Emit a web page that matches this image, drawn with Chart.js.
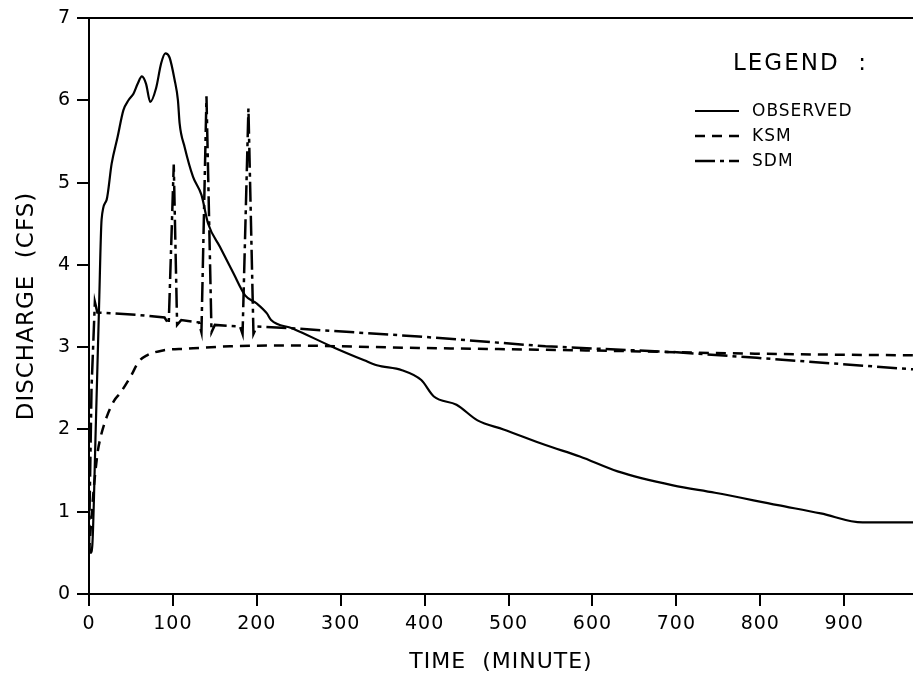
<!DOCTYPE html>
<html lang="en">
<head>
    <meta charset="UTF-8">
    <title>Discharge vs Time</title>
    <style>
        * { margin: 0; padding: 0; box-sizing: border-box; }
        body { background: #fff; }
        .wrap { position: relative; width: 913px; height: 680px; }
    </style>
</head>
<body>
    <div class="wrap"><canvas id="flowChart" width="913" height="680"></canvas></div>

    <script src="https://cdn.jsdelivr.net/npm/chart.js"></script>
    <script>
        const obsTime = [0, 2, 4, 8, 12, 15, 21, 27, 34, 41, 47, 53, 58, 63, 68, 73, 80, 86, 91, 96, 102, 106, 108, 114, 124, 134, 142, 156, 172, 186, 200, 212, 217, 242, 293, 328, 343, 373, 396, 411, 438, 463, 494, 544, 585, 630, 696, 746, 821, 872, 922, 982];
        const obsFlow = [0.6, 0.5, 0.6, 2.0, 3.5, 4.55, 4.79, 5.23, 5.55, 5.88, 6.0, 6.08, 6.2, 6.29, 6.2, 5.98, 6.15, 6.45, 6.57, 6.52, 6.25, 6.0, 5.72, 5.43, 5.07, 4.85, 4.5, 4.22, 3.9, 3.63, 3.53, 3.41, 3.33, 3.23, 2.99, 2.84, 2.78, 2.72, 2.6, 2.4, 2.3, 2.11, 2.0, 1.81, 1.67, 1.49, 1.32, 1.23, 1.08, 0.98, 0.87, 0.87];

        const ksmTime = [0, 5, 10, 13, 21, 30, 37, 50, 59, 69, 88, 116, 168, 228, 393, 594, 796, 982];
        const ksmFlow = [0.5, 1.2, 1.7, 1.87, 2.15, 2.35, 2.44, 2.65, 2.82, 2.9, 2.96, 2.98, 3.01, 3.02, 2.99, 2.96, 2.92, 2.9];

        const sdmTime = [0, 3, 7, 10, 30, 60, 90, 95, 101, 105, 110, 131, 134, 140, 146, 150, 180, 183, 190, 196, 200, 240, 393, 544, 696, 796, 982];
        const sdmFlow = [0.6, 2.5, 3.55, 3.42, 3.41, 3.39, 3.36, 3.28, 5.22, 3.27, 3.33, 3.3, 3.18, 6.05, 3.18, 3.27, 3.25, 3.16, 5.9, 3.16, 3.25, 3.23, 3.13, 3.01, 2.94, 2.87, 2.73];

        const xTicks = [0, 100, 200, 300, 400, 500, 600, 700, 800, 900];
        const yTicks = [0, 1, 2, 3, 4, 5, 6, 7];
        const seriesNames = ['OBSERVED', 'KSM', 'SDM'];

        const toPoints = (xs, ys) => xs.map((x, i) => ({ x: x, y: ys[i] }));

        const fontFamily = "'DejaVu Sans', sans-serif";

        // letter spacing like the plotter lettering
        const spacingPlugin = {
            id: 'spacing',
            beforeDraw(chart) {
                chart.ctx.letterSpacing = '1px';
            }
        };

        // top frame line plus the legend in the upper right
        const framePlugin = {
            id: 'frame',
            afterDraw(chart) {
                const ctx = chart.ctx;
                const area = chart.chartArea;
                ctx.save();
                ctx.strokeStyle = '#000';
                ctx.lineWidth = 2;
                ctx.beginPath();
                ctx.moveTo(area.left - 1, area.top);
                ctx.lineTo(area.right, area.top);
                ctx.stroke();

                ctx.fillStyle = '#000';
                ctx.letterSpacing = '2px';
                ctx.font = '23px ' + fontFamily;
                ctx.textAlign = 'left';
                ctx.textBaseline = 'middle';
                ctx.fillText('LEGEND  :', 733, 64);

                ctx.letterSpacing = '1px';
                ctx.font = '17px ' + fontFamily;
                const rows = [111, 136, 161];
                chart.data.datasets.forEach((ds, i) => {
                    ctx.setLineDash(ds.borderDash || []);
                    ctx.lineWidth = ds.borderWidth;
                    ctx.beginPath();
                    ctx.moveTo(695, rows[i]);
                    ctx.lineTo(739, rows[i]);
                    ctx.stroke();
                    ctx.setLineDash([]);
                    ctx.fillText(ds.label, 752, rows[i] + 1);
                });
                ctx.restore();
            }
        };

        const ctx = document.getElementById('flowChart').getContext('2d');
        const flowChart = new Chart(ctx, {
            type: 'line',
            data: {
                datasets: [{
                    label: seriesNames[0],
                    data: toPoints(obsTime, obsFlow),
                    borderColor: '#000',
                    borderWidth: 2.2,
                    cubicInterpolationMode: 'monotone'
                }, {
                    label: seriesNames[1],
                    data: toPoints(ksmTime, ksmFlow),
                    borderColor: '#000',
                    borderWidth: 2.5,
                    borderDash: [10, 7],
                    cubicInterpolationMode: 'monotone'
                }, {
                    label: seriesNames[2],
                    data: toPoints(sdmTime, sdmFlow),
                    borderColor: '#000',
                    borderWidth: 2.5,
                    borderDash: [20, 5, 4, 5]
                }]
            },
            options: {
                responsive: false,
                animation: false,
                devicePixelRatio: 1,
                layout: { padding: { top: 18, right: 0, bottom: 0, left: 0 } },
                elements: { point: { radius: 0 } },
                plugins: {
                    legend: { display: false },
                    tooltip: { enabled: false }
                },
                scales: {
                    x: {
                        type: 'linear',
                        min: 0,
                        max: 982,
                        afterFit: s => { s.height = 86; },
                        afterBuildTicks: s => { s.ticks = xTicks.map(v => ({ value: v })); },
                        border: { color: '#000', width: 2 },
                        grid: { drawOnChartArea: false, color: '#000', lineWidth: 2, tickLength: 12 },
                        ticks: { color: '#000', padding: 7, maxRotation: 0, autoSkip: false, font: { family: fontFamily, size: 19 } },
                        title: {
                            display: true,
                            text: 'TIME  (MINUTE)',
                            color: '#000',
                            padding: { top: 0, bottom: 5 },
                            font: { family: fontFamily, size: 22 }
                        }
                    },
                    y: {
                        min: 0,
                        max: 7,
                        afterFit: s => { s.width = 89; },
                        afterBuildTicks: s => { s.ticks = yTicks.map(v => ({ value: v })); },
                        border: { color: '#000', width: 2 },
                        grid: { drawOnChartArea: false, color: '#000', lineWidth: 2, tickLength: 12 },
                        ticks: { color: '#000', padding: 6, autoSkip: false, font: { family: fontFamily, size: 19 } },
                        title: {
                            display: true,
                            text: 'DISCHARGE  (CFS)',
                            color: '#000',
                            padding: { top: 13, bottom: 0 },
                            font: { family: fontFamily, size: 23 }
                        }
                    }
                }
            },
            plugins: [spacingPlugin, framePlugin]
        });
    </script>
</body>
</html>
